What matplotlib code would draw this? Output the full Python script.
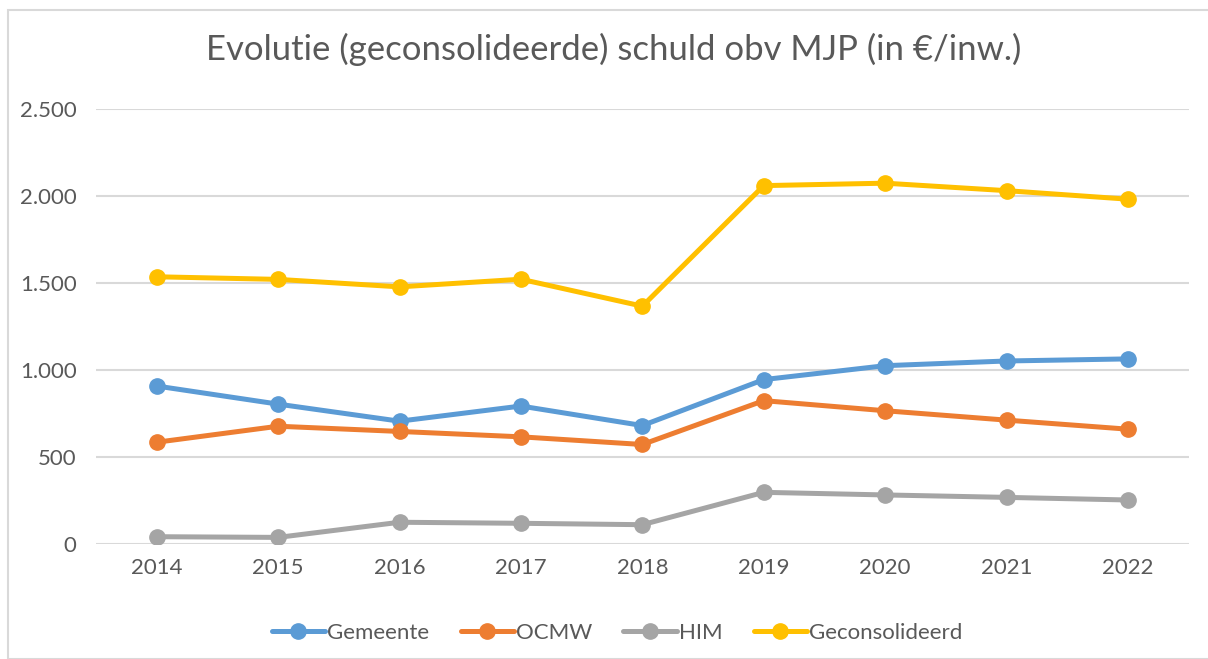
import matplotlib
matplotlib.use('Agg')
import matplotlib.pyplot as plt
from matplotlib.patches import Rectangle
from matplotlib.ticker import FuncFormatter

# data (EUR per inhabitant)
years = ['2014', '2015', '2016', '2017', '2018', '2019', '2020', '2021', '2022']
gemeente = [908, 804, 706, 793, 681, 945, 1025, 1052, 1064]
ocmw = [585, 677, 647, 616, 572, 824, 766, 712, 660]
him = [42, 38, 125, 119, 111, 297, 282, 268, 253]
geconsolideerd = [1536, 1521, 1478, 1522, 1367, 2060, 2074, 2031, 1982]

series = [
    ('Gemeente', gemeente, '#5B9BD5'),
    ('OCMW', ocmw, '#ED7D31'),
    ('HIM', him, '#A5A5A5'),
    ('Geconsolideerd', geconsolideerd, '#FFC000'),
]

text_color = '#595959'
grid_color = '#D9D9D9'

plt.rcParams['font.family'] = ['Lato', 'DejaVu Sans']

fig = plt.figure(figsize=(12.08, 6.59), dpi=100)
ax = fig.add_axes([0.0795, 0.1745, 0.9045, 0.66])

# light frame around the chart area like in Excel
fig.patches.append(Rectangle((8 / 1208, 0), 1.2, 1 - 10 / 659,
                             transform=fig.transFigure, fill=False,
                             edgecolor=grid_color, linewidth=1.5))

x = range(len(years))
for name, vals, col in series:
    ax.plot(x, vals, color=col, linewidth=3.6, marker='o', markersize=11,
            label=name, solid_capstyle='round')

ax.set_xlim(-0.5, len(years) - 0.5)
ax.set_ylim(0, 2500)
ax.set_yticks([0, 500, 1000, 1500, 2000, 2500])
ax.yaxis.set_major_formatter(FuncFormatter(lambda v, p: f'{int(v):,}'.replace(',', '.')))
ax.set_xticks(list(x))
ax.set_xticklabels(years)

ax.grid(axis='y', color=grid_color, linewidth=1.5)
ax.set_axisbelow(True)
for s in ax.spines.values():
    s.set_visible(False)
ax.tick_params(length=0, labelsize=16, colors=text_color, pad=10)
ax.tick_params(axis='y', pad=14)

fig.text(0.508, 0.925, 'Evolutie (geconsolideerde) schuld obv MJP (in €/inw.)',
         ha='center', va='center', fontsize=25, color=text_color)

leg = ax.legend(loc='center', bbox_to_anchor=(0.477, -0.205), ncol=4,
                frameon=False, fontsize=16, handlelength=2.4,
                columnspacing=1.4, handletextpad=0.1)
for t in leg.get_texts():
    t.set_color(text_color)

fig.savefig('out.png', dpi=100, facecolor='white')
